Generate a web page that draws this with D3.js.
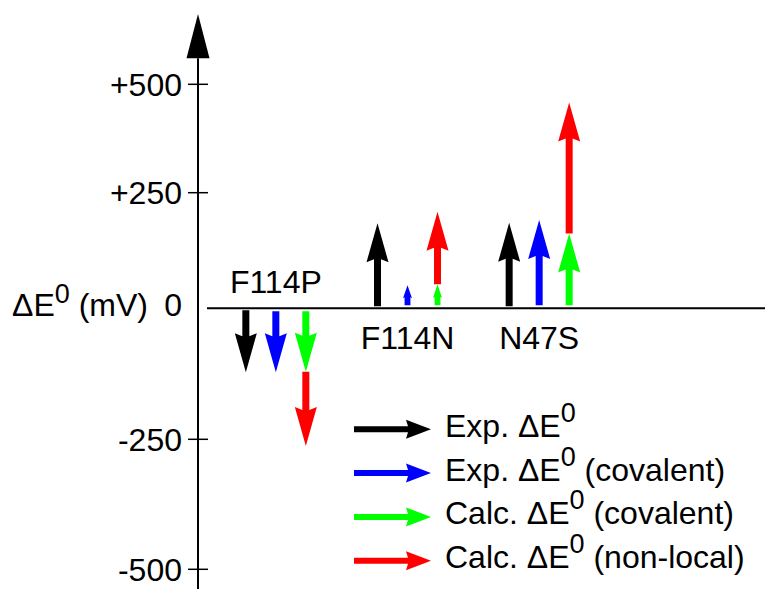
<!DOCTYPE html>
<html>
<head>
<meta charset="utf-8">
<script src="https://cdn.jsdelivr.net/npm/d3@7"></script>
<style>
  body { margin: 0; background: #fff; }
  text { font-family: "Liberation Sans", Arial, sans-serif; font-size: 32px; fill: #000; }
</style>
</head>
<body>
<svg id="chart" width="765" height="589"></svg>
<script>
// mutations and the four kinds of shift (mV)
const mutations = ["F114P", "F114N", "N47S"];
const expShift = [-122, 184, 185];
const expCovalentShift = [-122, 50, 191];
const calcCovalentShift = [-121, 52, 162];
const calcNonLocalShift = [-263, 209, 458]; // total, drawn on top of the covalent part

const tickValues = [500, 250, 0, -250, -500];
const tickLabels = ["+500", "+250", "0", "-250", "-500"];

const legendItems = [
  { pre: "Exp. \u0394E", sup: "0", post: "", color: "#000000" },
  { pre: "Exp. \u0394E", sup: "0", post: " (covalent)", color: "#0000ff" },
  { pre: "Calc. \u0394E", sup: "0", post: " (covalent)", color: "#00ff00" },
  { pre: "Calc. \u0394E", sup: "0", post: " (non-local)", color: "#ff0000" },
];

const svg = d3.select("#chart");

// the hand drawn axis is not evenly spaced, so use a piecewise scale
const y = d3
  .scaleLinear()
  .domain([-500, -250, 0, 250, 500])
  .range([569.3, 439.3, 308.3, 192.7, 84.3]);

const x = d3.scaleBand().domain(mutations).range([210, 605]).padding(0);
const lane = d3
  .scalePoint()
  .domain(["exp", "expCov", "calc"])
  .range([-30, 30]);

const axisX = 198;

// arrow polygon along a direction, local coords: a = along, c = across
const arrowPoints = (len, hl, hw, sw, notch) => {
  if (len < 60) {
    hl = Math.min(hl, len * 0.65);
    hw = Math.max(9, hw * Math.min(1, len / 55));
    sw = Math.min(sw, hw * 0.65);
    notch = notch * (hl / 39);
  }
  return [
    [0, -sw / 2],
    [len - hl + notch, -sw / 2],
    [len - hl, -hw / 2],
    [len, 0],
    [len - hl, hw / 2],
    [len - hl + notch, sw / 2],
    [len, 0],
    [len - hl + notch, sw / 2],
    [0, sw / 2],
  ];
};

const verticalArrow = (cx, v0, v1, color, gap) => {
  const y0 = y(v0);
  const y1 = y(v1);
  const dir = y1 > y0 ? 1 : -1;
  const start = y0 + dir * gap;
  const len = Math.abs(y1 - start);
  const pts = arrowPoints(len, 39, 22, 7, 3).map(
    ([a, c]) => [cx + c, start + dir * a]
  );
  svg
    .append("polygon")
    .attr("points", pts.map((p) => p.join(",")).join(" "))
    .attr("fill", color);
};

// y axis
svg
  .append("line")
  .attr("x1", axisX)
  .attr("x2", axisX)
  .attr("y1", y(560))
  .attr("y2", 589)
  .attr("stroke", "#000")
  .attr("stroke-width", 2);

svg
  .append("polygon")
  .attr(
    "points",
    [
      [axisX, y(662)],
      [axisX - 11.5, y(560)],
      [axisX + 11.5, y(560)],
    ]
      .map((p) => p.join(","))
      .join(" ")
  )
  .attr("fill", "#000");

// zero line
svg
  .append("line")
  .attr("x1", 207)
  .attr("x2", 765)
  .attr("y1", y(0))
  .attr("y2", y(0))
  .attr("stroke", "#000")
  .attr("stroke-width", 2);

tickValues.forEach((v, i) => {
  if (v !== 0) {
    svg
      .append("line")
      .attr("x1", axisX - 10)
      .attr("x2", axisX + 10)
      .attr("y1", y(v))
      .attr("y2", y(v))
      .attr("stroke", "#000")
      .attr("stroke-width", 1.5);
  }
  svg
    .append("text")
    .attr("x", 182)
    .attr("y", y(v) + (v === 0 ? 8 : 11.5))
    .attr("text-anchor", "end")
    .text(tickLabels[i]);
});

// axis title, sits on the zero row
const yTitle = svg.append("text").attr("x", 12).attr("y", y(0) + 8);
yTitle.append("tspan").text("\u0394E");
yTitle.append("tspan").attr("font-size", 27).attr("dy", -13).text("0");
yTitle.append("tspan").attr("dy", 13).text(" (mV)");

// arrows
mutations.forEach((m, i) => {
  const cx = x(m) + x.bandwidth() / 2;
  verticalArrow(cx + lane("exp"), 0, expShift[i], "#000000", 2);
  verticalArrow(cx + lane("expCov"), 0, expCovalentShift[i], "#0000ff", 3);
  verticalArrow(cx + lane("calc"), 0, calcCovalentShift[i], "#00ff00", 3);
  verticalArrow(
    cx + lane("calc"),
    calcCovalentShift[i],
    calcNonLocalShift[i],
    "#ff0000",
    0
  );

  // label goes on the side opposite the arrows
  const below = expShift[i] > 0;
  svg
    .append("text")
    .attr("x", cx)
    .attr("y", below ? y(0) + 41 : y(0) - 15)
    .attr("text-anchor", "middle")
    .text(m);
});

// legend
const legendX = 354;
const legendY = 429.3;
const legendStep = 43.8;
const legendLen = 77;

legendItems.forEach((item, i) => {
  const ly = legendY + i * legendStep;
  const pts = arrowPoints(legendLen, 25, 19, 6, 2).map(([a, c]) => [
    legendX + a,
    ly + c,
  ]);
  svg
    .append("polygon")
    .attr("points", pts.map((p) => p.join(",")).join(" "))
    .attr("fill", item.color);

  const t = svg.append("text").attr("x", 445).attr("y", ly + 7.5);
  t.append("tspan").text(item.pre);
  t.append("tspan").attr("font-size", 27).attr("dy", -15).text(item.sup);
  t.append("tspan").attr("dy", 15).text(item.post);
});
</script>
</body>
</html>
